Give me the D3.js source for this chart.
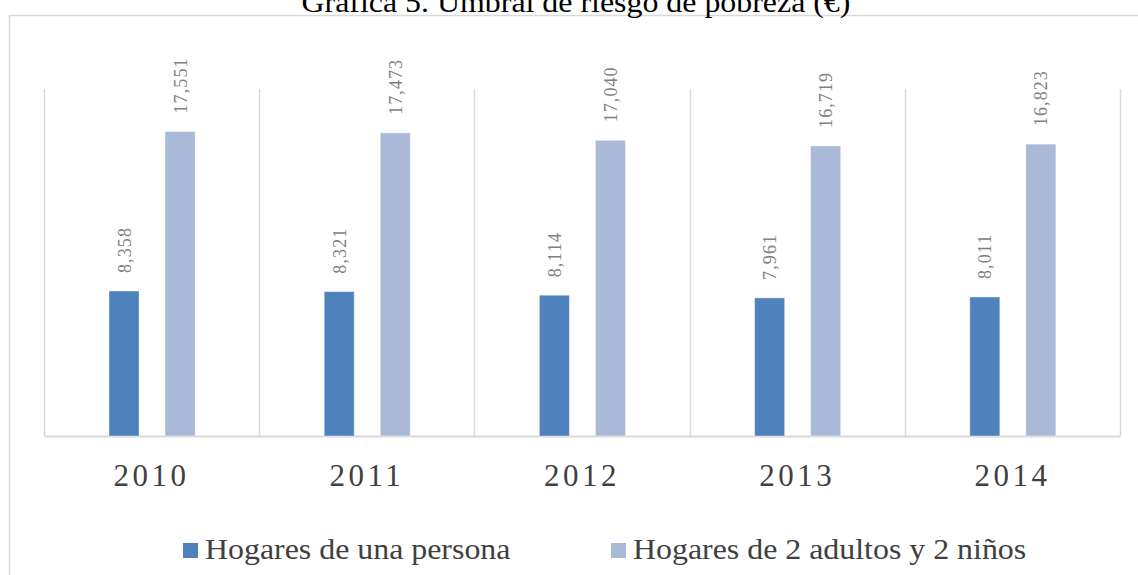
<!DOCTYPE html>
<html>
<head>
<meta charset="utf-8">
<script src="https://cdn.jsdelivr.net/npm/d3@7"></script>
<style>
  body { margin: 0; background: #fff; }
  svg { display: block; font-family: "Liberation Serif", "Times New Roman", serif; }
</style>
</head>
<body>
<div id="chart"></div>
<script>
// chart data
var years = ["2010", "2011", "2012", "2013", "2014"];
var seriesNames = ["Hogares de una persona", "Hogares de 2 adultos y 2 niños"];
var unaPersona = [8358, 8321, 8114, 7961, 8011];
var dosAdultos = [17551, 17473, 17040, 16719, 16823];
var seriesColors = ["#4f81bd", "#aab9d8"];

var width = 1138, height = 575;
var plotLeft = 44, plotRight = 1120, plotTop = 89, plotBottom = 436;
var stretch = 1.1;   // the original picture is a bit wider than tall
var serif = "Liberation Serif, Times New Roman, serif";

var svg = d3.select("#chart").append("svg")
  .attr("width", width)
  .attr("height", height);

// outer chart frame (cropped on right/bottom)
svg.append("path")
  .attr("d", "M9.5," + height + "V15.5H" + width)
  .attr("fill", "none")
  .attr("stroke", "#d9d9d9")
  .attr("stroke-width", 1.5);

// title, cut at the top of the picture
svg.append("text")
  .attr("transform", "translate(576,12) scale(" + stretch + ",1)")
  .attr("text-anchor", "middle")
  .attr("font-family", serif)
  .attr("font-size", 29)
  .attr("fill", "#000")
  .text("Gráfica  5. Umbral de riesgo de pobreza (€)");

var x0 = d3.scaleBand().domain(years).range([plotLeft, plotRight]).padding(0);
var x1 = d3.scaleBand().domain(seriesNames)
  .range([x0.bandwidth() * 0.302, x0.bandwidth() * 0.702])
  .paddingInner(0.464);
var y = d3.scaleLinear().domain([0, 20000]).range([plotBottom, plotTop]);

// vertical separators between categories
var seps = d3.range(years.length + 1).map(function(i) {
  return i < years.length ? x0(years[i]) : x0(years[years.length - 1]) + x0.bandwidth();
});
svg.selectAll("line.sep")
  .data(seps).enter().append("line")
  .attr("class", "sep")
  .attr("x1", function(d) { return Math.round(d) + 0.5; })
  .attr("x2", function(d) { return Math.round(d) + 0.5; })
  .attr("y1", plotTop).attr("y2", plotBottom)
  .attr("stroke", "#d9d9d9").attr("stroke-width", 1.5);

// x axis
var xaxis = d3.axisBottom(x0).tickSize(0).tickPadding(28);
var gx = svg.append("g").attr("transform", "translate(0," + plotBottom + ")").call(xaxis);
gx.select(".domain").attr("stroke", "#d9d9d9").attr("stroke-width", 2);
gx.selectAll(".tick text")
  .attr("font-family", serif)
  .attr("font-size", 31)
  .attr("letter-spacing", "3.5px")
  .attr("fill", "#404040");

var table = years.map(function(yr, i) {
  return { year: yr, values: [
    { name: seriesNames[0], value: unaPersona[i] },
    { name: seriesNames[1], value: dosAdultos[i] }
  ]};
});

var groups = svg.selectAll("g.year")
  .data(table).enter().append("g")
  .attr("class", "year")
  .attr("transform", function(d) { return "translate(" + x0(d.year) + ",0)"; });

groups.selectAll("rect")
  .data(function(d) { return d.values; })
  .enter().append("rect")
  .attr("x", function(d) { return x1(d.name); })
  .attr("width", x1.bandwidth())
  .attr("y", function(d) { return y(d.value); })
  .attr("height", function(d) { return plotBottom - y(d.value); })
  .attr("fill", function(d, i) { return seriesColors[i]; })
  .attr("stroke", "#fff").attr("stroke-opacity", 0.4);

var fmt = d3.format(",");
groups.selectAll("text.val")
  .data(function(d) { return d.values; })
  .enter().append("text")
  .attr("class", "val")
  .attr("transform", function(d) {
    return "translate(" + (x1(d.name) + x1.bandwidth() / 2 + 6.5) + "," + (y(d.value) - 18) +
      ") scale(" + stretch + ",1) rotate(-90)";
  })
  .attr("font-family", serif)
  .attr("font-size", 18)
  .attr("letter-spacing", "1.1px")
  .attr("fill", "#7f7f7f")
  .text(function(d) { return fmt(d.value); });

// legend
var legendX = [183, 611];
var legend = svg.selectAll("g.legend")
  .data(seriesNames).enter().append("g")
  .attr("class", "legend")
  .attr("transform", function(d, i) { return "translate(" + legendX[i] + ",543)"; });
legend.append("rect")
  .attr("width", 15).attr("height", 15)
  .attr("fill", function(d, i) { return seriesColors[i]; });
legend.append("text")
  .attr("transform", "translate(22,16) scale(" + stretch + ",1)")
  .attr("font-family", serif)
  .attr("font-size", 29)
  .attr("fill", "#404040")
  .text(function(d) { return d; });
</script>
</body>
</html>
